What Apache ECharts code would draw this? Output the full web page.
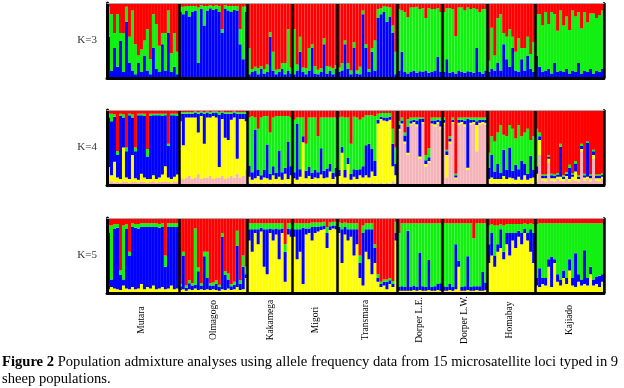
<!DOCTYPE html>
<html><head><meta charset="utf-8">
<script src="https://cdn.jsdelivr.net/npm/echarts@6/dist/echarts.min.js"></script>
<style>html,body{margin:0;padding:0;background:#fff}#c{width:624px;height:388px}</style>
</head><body><div id="c"></div>
<script>
// ---------------- DATA ----------------
const populations = ['Mutara','Olmagogo','Kakamega','Migori','Transmara','Dorper L.E.','Dorper L.W.','Homabay','Kajiado'];
const panelLabels = ['K=3','K=4','K=5'];
// cluster order, bottom to top of each bar
const k3Clusters = ['blue','green','red'];
const k4Clusters = ['pink','yellow','blue','green','red'];
const k5Clusters = ['yellow','blue','green','red'];

// K=3 : [blue, green, red] (%) per individual
const k3Mutara = [[55,40,5],[10,75,15],[40,20,40],[15,70,15],[50,10,40],[8,52,40],[75,20,5],[20,35,45],[10,80,10],[5,40,55],[20,10,70],[8,30,62],[30,20,50],[10,55,35],[5,20,75],[40,45,15],[12,60,28],[8,35,57],[45,15,40],[10,50,40],[60,30,10],[8,25,67],[15,45,40],[5,30,65]];
const k3Olmagogo = [[88,7,5],[85,10,5],[90,6,4],[82,14,4],[88,8,4],[90,6,4],[20,74,6],[92,5,3],[70,26,4],[90,6,4],[93,4,3],[91,5,4],[92,5,3],[88,8,4],[60,5,35],[92,5,3],[90,6,4],[88,8,4],[91,5,4],[90,6,4],[45,20,35],[25,70,5],[88,8,4]];
const k3Kakamega = [[5,35,60],[8,4,88],[10,5,85],[5,8,87],[12,4,84],[6,6,88],[8,10,82],[55,6,39],[10,25,65],[5,6,89],[8,4,88],[12,8,80],[5,15,80],[10,55,35],[6,8,86]];
const k3Migori = [[5,60,35],[10,8,82],[35,20,45],[8,6,86],[5,8,87],[10,30,60],[40,5,55],[6,10,84],[5,6,89],[8,5,87],[45,8,47],[6,10,84],[10,5,85],[5,8,87],[12,5,83]];
const k3Transmara = [[8,6,86],[10,10,80],[45,5,50],[12,8,80],[5,5,90],[40,8,52],[6,4,90],[5,10,85],[85,5,10],[40,5,55],[8,4,88],[35,5,60],[10,40,50],[80,12,8],[85,8,7],[88,8,4],[75,20,5],[82,12,6],[60,10,30],[5,30,65]];
const k3DorperLE = [[10,82,8],[35,55,10],[8,80,12],[6,75,19],[8,86,6],[10,84,6],[7,88,5],[9,83,8],[8,85,7],[10,70,20],[7,86,7],[8,84,8],[10,82,8],[28,65,7],[8,80,12]];
const k3DorperLW = [[8,80,12],[25,68,7],[7,86,7],[8,84,8],[6,50,44],[10,84,6],[8,86,6],[7,83,10],[9,85,6],[8,84,8],[7,86,7],[40,52,8],[8,80,12],[6,86,8],[10,82,8]];
const k3Homabay = [[8,15,77],[12,55,33],[10,20,70],[20,60,20],[10,75,15],[45,15,40],[25,30,45],[15,50,35],[40,15,45],[10,25,65],[8,45,47],[25,15,60],[10,30,60],[30,25,45],[12,20,68],[8,40,52]];
const k3Kajiado = [[30,55,15],[15,70,15],[8,62,30],[10,78,12],[12,60,28],[6,82,12],[20,65,15],[8,55,37],[10,80,10],[8,62,30],[12,70,18],[6,58,36],[10,80,10],[8,74,18],[20,68,12],[6,60,34],[10,78,12],[8,66,26],[12,74,14],[6,80,14],[10,70,20],[8,76,16],[12,78,10]];

// K=4 : [pink, yellow, blue, green, red]
const k4Mutara = [[4,20,66,5,5],[5,8,72,10,5],[3,28,60,3,6],[4,6,30,5,55],[3,5,84,3,5],[5,45,40,4,6],[4,6,35,5,50],[3,5,85,2,5],[5,35,50,4,6],[4,5,36,5,50],[3,4,86,2,5],[5,10,78,2,5],[4,6,82,3,5],[3,5,30,10,52],[4,4,84,3,5],[5,8,80,2,5],[3,5,85,2,5],[4,6,83,2,5],[4,10,78,3,5],[5,20,68,2,5],[4,6,42,3,45],[3,5,85,2,5],[5,6,82,2,5],[4,10,78,3,5]];
const k4Olmagogo = [[10,75,10,2,3],[8,45,42,2,3],[10,80,5,2,3],[12,78,5,2,3],[8,82,5,2,3],[10,80,6,2,2],[15,55,25,2,3],[8,84,4,2,2],[10,45,40,2,3],[10,80,6,2,2],[12,78,5,2,3],[8,84,4,2,2],[10,80,6,2,2],[10,14,70,3,3],[12,76,8,2,2],[8,55,32,2,3],[10,50,35,2,3],[12,75,8,2,3],[10,80,6,2,2],[15,20,60,2,3],[10,78,7,2,3],[12,76,7,2,3],[20,65,10,2,3]];
const k4Kakamega = [[3,8,15,64,10],[2,5,10,75,8],[3,6,65,16,10],[2,10,8,55,25],[3,4,6,77,10],[2,8,10,72,8],[3,6,45,38,8],[2,5,8,55,30],[3,10,12,65,10],[2,6,8,76,8],[3,8,35,46,8],[2,5,10,75,8],[3,12,8,69,8],[2,6,50,34,8],[3,10,12,65,10]];
const k4Migori = [[3,6,8,70,13],[2,5,75,8,10],[3,8,10,69,10],[2,55,8,25,10],[3,6,10,36,45],[2,10,12,66,10],[3,5,8,74,10],[2,8,10,70,10],[3,6,8,48,35],[2,12,35,41,10],[3,6,10,71,10],[2,8,12,68,10],[3,15,10,62,10],[2,6,8,74,10],[3,8,12,67,10]];
const k4Transmara = [[2,10,8,70,10],[3,40,8,40,9],[2,8,10,70,10],[3,25,8,54,10],[2,5,8,40,45],[3,8,10,70,9],[2,6,12,70,10],[3,10,8,66,13],[2,8,15,65,10],[3,10,40,40,7],[2,8,45,38,7],[3,15,30,45,7],[2,10,20,60,8],[2,80,5,8,5],[3,85,3,5,4],[2,84,4,6,4],[3,82,5,6,4],[2,85,4,5,4],[5,20,30,20,25],[3,10,15,22,50]];
const k4DorperLE = [[72,3,5,5,15],[80,2,4,4,10],[55,3,8,4,30],[40,3,35,10,12],[80,2,4,4,10],[82,2,3,3,10],[78,3,5,4,10],[35,3,50,2,10],[82,2,4,2,10],[25,3,5,7,60],[30,2,5,12,51],[80,2,4,4,10],[78,3,5,4,10],[82,2,3,3,10],[75,3,8,4,10]];
const k4DorperLW = [[80,3,4,3,10],[10,30,5,2,53],[55,3,4,3,35],[82,2,3,3,10],[8,2,3,2,85],[80,3,4,3,10],[82,2,3,3,10],[78,3,5,4,10],[20,3,65,2,10],[80,3,4,3,10],[82,2,3,3,10],[45,35,5,5,10],[80,3,4,3,10],[82,2,3,3,10],[80,3,4,3,10]];
const k4Homabay = [[3,5,15,20,57],[2,8,30,25,35],[3,5,10,40,42],[2,6,20,42,30],[3,5,8,64,20],[2,10,35,20,33],[3,5,12,45,35],[2,8,40,30,20],[3,6,10,56,25],[2,5,20,35,38],[3,8,10,59,20],[2,5,25,33,35],[3,10,15,42,30],[2,5,8,60,25],[3,6,30,21,40],[2,8,10,45,35]];
const k4Kajiado = [[5,10,10,50,25],[40,20,5,5,30],[6,3,3,2,86],[5,4,3,2,86],[30,5,3,2,60],[6,3,4,2,85],[5,4,3,2,86],[8,3,3,2,84],[6,5,40,4,45],[5,3,3,2,87],[8,4,3,2,83],[5,3,15,4,73],[7,4,3,2,84],[6,12,10,4,68],[5,3,3,2,87],[45,3,4,3,45],[6,4,3,2,85],[8,3,45,2,42],[5,4,3,2,86],[35,5,5,2,53],[6,3,3,2,86],[5,4,3,2,86],[8,3,3,2,84]];

// K=5 : [yellow, blue, green, red]
const k5Mutara = [[5,75,10,10],[8,10,72,10],[6,80,6,8],[5,82,5,8],[4,20,6,70],[10,8,72,10],[6,80,6,8],[5,45,5,45],[8,80,5,7],[5,82,5,8],[6,80,6,8],[12,76,5,7],[5,83,5,7],[8,80,5,7],[6,82,5,7],[10,78,5,7],[5,83,5,7],[6,81,5,8],[8,80,5,7],[5,30,15,50],[6,82,5,7],[10,78,5,7],[5,83,5,7],[6,82,5,7]];
const k5Olmagogo = [[4,5,3,88],[5,45,5,45],[3,4,3,90],[5,8,4,83],[4,6,3,87],[6,5,75,14],[4,25,5,66],[5,5,3,87],[4,45,6,45],[5,15,35,45],[4,6,3,87],[5,5,4,86],[4,8,5,83],[3,5,3,89],[5,70,5,20],[4,20,5,71],[6,12,8,74],[4,5,3,88],[5,6,4,85],[8,55,20,17],[4,8,5,83],[5,30,15,50],[20,5,10,65]];
const k5Kakamega = [[70,15,8,7],[55,30,8,7],[80,5,8,7],[65,20,8,7],[82,5,6,7],[35,50,8,7],[25,60,8,7],[80,6,7,7],[70,15,8,7],[78,8,7,7],[45,40,8,7],[80,6,7,7],[15,40,10,35],[78,8,7,7],[75,10,8,7]];
const k5Migori = [[75,10,8,7],[45,40,8,7],[55,30,8,7],[12,75,6,7],[78,8,7,7],[80,6,7,7],[70,18,6,6],[80,8,6,6],[82,6,6,6],[84,5,5,6],[85,5,5,5],[60,20,8,12],[84,5,5,6],[86,4,5,5],[85,5,5,5]];
const k5Transmara = [[80,8,6,6],[40,45,8,7],[78,10,6,6],[70,15,8,7],[75,10,8,7],[50,35,8,7],[65,20,8,7],[20,20,10,50],[10,70,10,10],[55,30,8,7],[45,40,8,7],[25,60,8,7],[40,20,5,35],[15,5,5,75],[8,4,3,85],[10,5,3,82],[5,10,3,82],[12,5,3,80],[8,4,4,84],[70,10,15,5]];
const k5DorperLE = [[3,5,72,20],[3,6,84,7],[3,5,85,7],[3,80,10,7],[3,5,85,7],[4,6,83,7],[3,5,85,7],[4,50,39,7],[3,6,84,7],[3,5,85,7],[4,40,49,7],[3,5,85,7],[3,6,84,7],[4,8,81,7],[3,10,80,7]];
const k5DorperLW = [[3,6,84,7],[3,5,85,7],[4,8,81,7],[3,5,85,7],[5,60,28,7],[35,8,50,7],[3,5,85,7],[3,6,84,7],[4,45,44,7],[3,5,85,7],[3,6,64,27],[4,5,84,7],[3,6,84,7],[3,25,65,7],[4,10,79,7]];
const k5Homabay = [[40,25,25,10],[50,30,12,8],[35,15,40,10],[55,10,25,10],[60,25,7,8],[45,10,35,10],[65,15,12,8],[50,30,12,8],[70,10,12,8],[60,20,12,8],[75,8,9,8],[65,15,12,8],[80,6,7,7],[70,10,12,8],[55,30,8,7],[40,40,12,8]];
const k5Kajiado = [[10,10,72,8],[8,25,60,7],[12,8,73,7],[10,10,73,7],[35,10,48,7],[8,40,45,7],[40,5,48,7],[15,10,68,7],[10,8,75,7],[20,10,63,7],[12,8,73,7],[30,15,48,7],[10,10,73,7],[8,45,40,7],[15,10,68,7],[10,8,75,7],[12,45,36,7],[10,10,73,7],[25,10,58,7],[10,8,75,7],[12,10,71,7],[8,15,70,7],[15,10,68,7]];

const k3Pops = [k3Mutara,k3Olmagogo,k3Kakamega,k3Migori,k3Transmara,k3DorperLE,k3DorperLW,k3Homabay,k3Kajiado];
const k4Pops = [k4Mutara,k4Olmagogo,k4Kakamega,k4Migori,k4Transmara,k4DorperLE,k4DorperLW,k4Homabay,k4Kajiado];
const k5Pops = [k5Mutara,k5Olmagogo,k5Kakamega,k5Migori,k5Transmara,k5DorperLE,k5DorperLW,k5Homabay,k5Kajiado];

const captionBold = 'Figure 2';
const captionText = ' Population admixture analyses using allele frequency data from 15 microsatellite loci typed in 9\nsheep populations.';

// ---------------- STYLE ----------------
const clusterColors = {pink:'#F5B4B9', yellow:'#FFFF00', blue:'#0000FF', green:'#12F012', red:'#FF0000'};
const serif = '"Liberation Serif","Times New Roman",serif';
const panelTops = [3, 110, 218];
const panelHeight = 75;

// ---------------- BUILD ----------------
const categories = [];
const popStarts = new Set();
const popCenters = new Set();
let idx = 0;
k3Pops.forEach((pop, p) => {
  if (idx > 0) popStarts.add(idx);
  popCenters.add(idx + Math.floor((pop.length - 1) / 2));
  pop.forEach((_, j) => categories.push(populations[p] + '|' + j));
  idx += pop.length;
});

const panels = [
  {clusters: k3Clusters, pops: k3Pops},
  {clusters: k4Clusters, pops: k4Pops},
  {clusters: k5Clusters, pops: k5Pops}
];

const grid = [], xAxis = [], yAxis = [], series = [];
panels.forEach((panel, i) => {
  grid.push({left: 107, right: 20, top: panelTops[i], height: panelHeight});
  xAxis.push({
    type: 'category', gridIndex: i, data: categories, position: 'bottom', z: 10,
    axisLine: {show: true, onZero: false, lineStyle: {color: '#000', width: 3}},
    axisTick: {show: false},
    axisLabel: i === 2 ? {
      show: true, interval: (n) => popCenters.has(n), rotate: 90, align: 'center', verticalAlign: 'middle',
      margin: 27, fontFamily: serif, fontSize: 9.5, color: '#000',
      formatter: (v) => String(v).split('|')[0]
    } : {show: false},
    splitLine: {show: true, interval: (n) => popStarts.has(n), lineStyle: {color: '#000', width: 2.5}}
  });
  xAxis.push({
    type: 'value', gridIndex: i, position: 'top', min: 0, max: 1, z: 10,
    axisLine: {show: true, onZero: false, lineStyle: {color: '#aaa', width: 1}},
    axisTick: {show: false}, axisLabel: {show: false}, splitLine: {show: false}
  });
  yAxis.push({
    type: 'value', gridIndex: i, position: 'left', min: 0, max: 100, z: 10,
    axisLine: {show: true, onZero: false, lineStyle: {color: '#000', width: 3}},
    axisTick: {show: false}, axisLabel: {show: false}, splitLine: {show: false},
    name: panelLabels[i], nameLocation: 'middle', nameRotate: 0, nameGap: 10,
    nameTextStyle: {fontFamily: serif, fontSize: 11, color: '#333', align: 'right', verticalAlign: 'middle'}
  });
  yAxis.push({
    type: 'value', gridIndex: i, position: 'right', min: 0, max: 100, z: 10,
    axisLine: {show: true, onZero: false, lineStyle: {color: '#000', width: 2}},
    axisTick: {show: false}, axisLabel: {show: false}, splitLine: {show: false}
  });
  panel.clusters.forEach((cl, k) => {
    const data = [];
    panel.pops.forEach(pop => pop.forEach(ind => {
      const s = ind.reduce((a, b) => a + b, 0);
      data.push(ind[k] / s * 100);
    }));
    series.push({
      type: 'bar', name: cl, xAxisIndex: 2 * i, yAxisIndex: 2 * i, stack: 'K' + i,
      barCategoryGap: '0%', barWidth: '100%', silent: true,
      itemStyle: {color: clusterColors[cl]}, data
    });
  });
});

const chart = echarts.init(document.getElementById('c'), null, {renderer: 'canvas'});
chart.setOption({
  animation: false,
  backgroundColor: '#fff',
  title: {
    left: 2, top: 354, padding: 0,
    text: '{b|' + captionBold + '}' + captionText,
    textStyle: {
      fontFamily: serif, fontSize: 14.6, fontWeight: 'normal', color: '#000', lineHeight: 17,
      rich: {b: {fontFamily: serif, fontSize: 14.6, fontWeight: 'bold', color: '#000', lineHeight: 17}}
    }
  },
  grid, xAxis, yAxis, series
});
</script></body></html>
